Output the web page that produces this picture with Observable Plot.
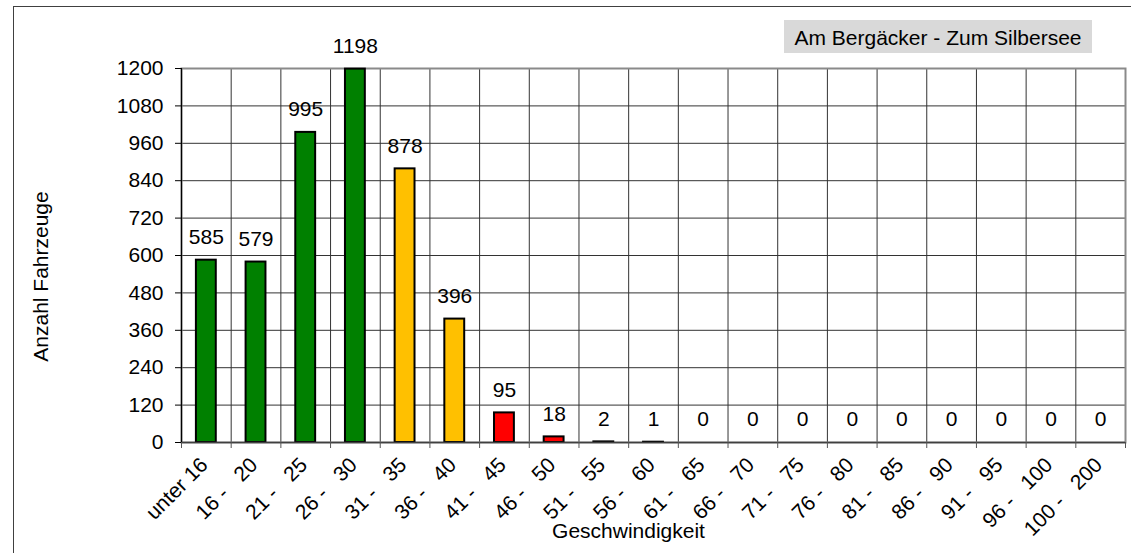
<!DOCTYPE html>
<html>
<head>
<meta charset="utf-8">
<script src="https://cdn.jsdelivr.net/npm/d3@7"></script>
<script src="https://cdn.jsdelivr.net/npm/@observablehq/plot@0.6"></script>
<style>
  html, body { margin: 0; padding: 0; background: #ffffff; }
  #chart svg { display: block; }
</style>
</head>
<body>
<div id="chart"></div>
<script>
// ---- data ----
const categories = ["unter 16", "16 - 20", "21 - 25", "26 - 30", "31 - 35", "36 - 40", "41 - 45", "46 - 50", "51 - 55", "56 - 60", "61 - 65", "66 - 70", "71 - 75", "76 - 80", "81 - 85", "86 - 90", "91 - 95", "96 - 100", "100 - 200"];
const counts = [585, 579, 995, 1198, 878, 396, 95, 18, 2, 1, 0, 0, 0, 0, 0, 0, 0, 0, 0];
const groups = ["gruen", "gruen", "gruen", "gruen", "gelb", "gelb", "rot", "rot", "rot", "rot", "rot", "rot", "rot", "rot", "rot", "rot", "rot", "rot", "rot"];
const yTicks = [0, 120, 240, 360, 480, 600, 720, 840, 960, 1080, 1200];
const chartTitle = "Am Bergäcker - Zum Silbersee";
const xTitle = "Geschwindigkeit";
const yTitle = "Anzahl Fahrzeuge";

const groupColors = {gruen: "#008000", gelb: "#FFC000", rot: "#FF0000"};

const data = categories.map((c, i) => ({cat: c, count: counts[i], group: groups[i]}));

// ---- layout ----
const W = 1131, H = 553;
const mL = 181, mR = 6, mT = 68, mB = 111;
const step = (W - mL - mR) / categories.length;
const fontFamily = "'Liberation Sans', Arial, Helvetica, sans-serif";

const tickLabel = (c) => c.replace(" - ", " -\u00a0\u00a0\u00a0");

const chart = Plot.plot({
  width: W,
  height: H,
  marginLeft: mL,
  marginRight: mR,
  marginTop: mT,
  marginBottom: mB,
  style: {fontFamily, fontSize: "21px", color: "#000", background: "#fff", overflow: "visible"},
  x: {type: "band", domain: categories, paddingInner: 0.6, paddingOuter: 0.3, round: false, axis: null},
  y: {domain: [0, 1200], nice: false, axis: null},
  color: {domain: Object.keys(groupColors), range: Object.values(groupColors)},
  marks: [
    // horizontal grid
    Plot.ruleY(yTicks.filter(t => t > 0 && t < 1200), {stroke: "#333", strokeWidth: 1}),
    // vertical grid at category boundaries
    Plot.ruleX(categories.slice(1), {x: d => d, dx: -step / 2, stroke: "#333", strokeWidth: 1}),
    // plot area border (top/right in grey)
    Plot.frame({stroke: "#8a8a8a", strokeWidth: 2}),
    // bars
    Plot.barY(data.filter(d => d.count > 0), {x: "cat", y: "count", fill: "group", stroke: "#000", strokeWidth: 2}),
    // axes lines
    Plot.ruleY([0], {stroke: "#404040", strokeWidth: 1.5}),
    Plot.ruleX([categories[0]], {x: d => d, dx: -step / 2, stroke: "#000", strokeWidth: 1.2}),
    // x tick marks at boundaries
    Plot.ruleX(categories, {x: d => d, dx: -step / 2, y1: 0, y2: 0, insetBottom: -6, stroke: "#555"}),
    Plot.ruleX([categories[categories.length - 1]], {x: d => d, dx: step / 2, y1: 0, y2: 0, insetBottom: -6, stroke: "#555"}),
    // y axis ticks & labels
    Plot.axisY({ticks: yTicks, tickFormat: d => String(d), tickSize: 6, tickPadding: 12, stroke: "#000", fill: "#000", label: null, fontSize: 21}),
    // value labels
    Plot.text(data, {x: "cat", y: "count", text: d => String(d.count), dy: -23, fill: "#000"}),
    // rotated category labels
    Plot.text(data, {x: "cat", frameAnchor: "bottom", lineAnchor: "middle", text: d => tickLabel(d.cat), rotate: -45, textAnchor: "end", dx: -2, dy: 19, fill: "#000"}),
    // axis titles
    Plot.text([yTitle], {frameAnchor: "left", textAnchor: "middle", lineAnchor: "middle", text: d => d, rotate: -90, dx: -140, dy: 21, fill: "#000"}),
    Plot.text([xTitle], {frameAnchor: "bottom", textAnchor: "middle", lineAnchor: "middle", text: d => d, dx: -25, dy: 89, fill: "#000"})
  ]
});

document.getElementById("chart").appendChild(chart);

// decorations: outer chart frame and title box
const svg = d3.select(chart);
svg.insert("rect", ":first-child")
  .attr("x", 13.5).attr("y", 6.5).attr("width", 1300).attr("height", 700)
  .attr("fill", "none").attr("stroke", "#404040").attr("stroke-width", 1);
const tg = svg.append("g");
tg.append("rect").attr("x", 784).attr("y", 20).attr("width", 308).attr("height", 33).attr("fill", "#d9d9d9");
tg.append("text").attr("x", 938).attr("y", 44.5).attr("text-anchor", "middle")
  .attr("font-family", fontFamily).attr("font-size", 21).attr("fill", "#000").text(chartTitle);
</script>
</body>
</html>
